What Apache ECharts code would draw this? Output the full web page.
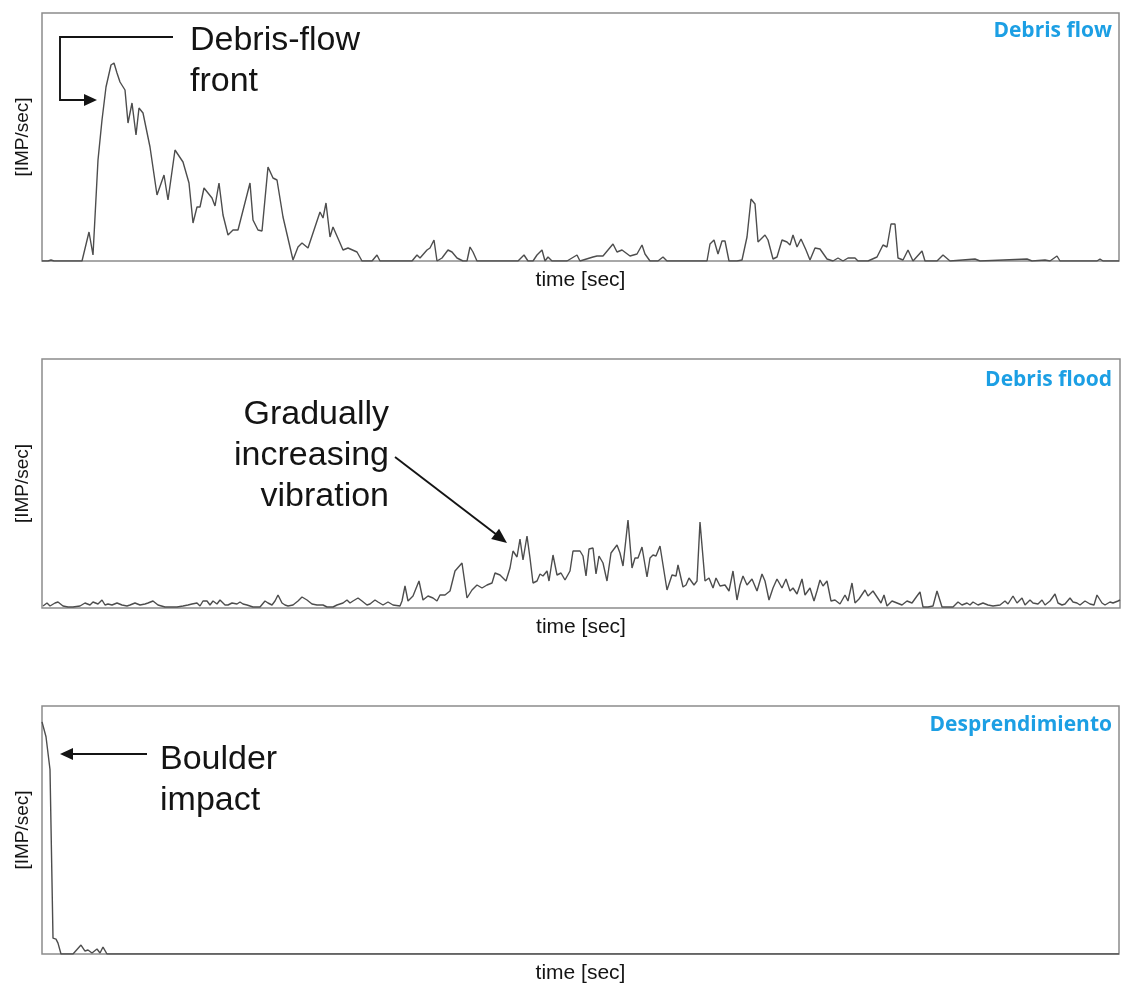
<!DOCTYPE html>
<html>
<head>
<meta charset="utf-8">
<title>Geophone signals</title>
<script src="https://cdn.jsdelivr.net/npm/echarts@6/dist/echarts.min.js"></script>
<style>
  html, body { margin: 0; padding: 0; background: #ffffff; }
  #chart { width: 1122px; height: 985px; }
</style>
</head>
<body>
<div id="chart"></div>
<script>
// Geophone impulse rate over time for three kinds of event: [time, IMP/sec]
const debrisFlowSignal = [
  [0,0],[6,0],[9,1],[12,0],[40,0],[47,29],[51,6],[56,101],[60,141],[64,174],[69,196],[72,198],
  [75,188],[78,179],[83,171],[86,138],[90,158],[94,126],[97,153],[101,148],[108,114],[115,66],
  [122,86],[126,61],[133,111],[141,99],[147,78],[151,38],[155,54],[158,54],[162,73],[166,68],
  [170,63],[173,55],[177,78],[181,46],[186,26],[191,31],[196,31],[208,78],[211,41],[216,31],
  [220,30],[226,94],[231,83],[235,81],[241,44],[251,1],[256,14],[260,18],[266,13],[278,49],
  [281,43],[284,58],[288,24],[291,34],[298,18],[301,11],[306,13],[315,9],[320,0],[330,0],
  [335,6],[338,0],[370,0],[375,6],[378,3],[385,11],[388,13],[392,21],[395,0],[400,3],[406,11],
  [410,9],[415,3],[421,0],[425,0],[428,14],[431,9],[435,0],[476,0],[482,6],[486,0],[491,0],
  [495,6],[500,11],[503,0],[506,4],[510,0],[525,0],[535,6],[538,0],[551,4],[555,5],[561,5],
  [566,11],[571,17],[575,9],[580,11],[588,5],[595,7],[600,16],[603,7],[608,0],[616,0],[621,4],
  [625,0],[640,0],[665,0],[668,17],[672,21],[676,7],[680,20],[683,20],[687,0],[695,0],[700,1],
  [705,24],[709,62],[713,57],[716,19],[723,26],[726,21],[731,2],[735,4],[740,21],[745,19],
  [748,16],[751,26],[755,14],[759,22],[764,11],[768,1],[773,13],[778,12],[785,2],[791,0],
  [796,3],[801,0],[806,3],[813,3],[816,0],[826,0],[835,4],[841,16],[845,14],[849,37],[853,37],
  [856,3],[861,1],[866,11],[871,0],[880,10],[883,0],[895,0],[901,6],[908,0],[933,2],[938,0],
  [985,2],[990,0],[1003,1],[1008,0],[1015,5],[1018,0],[1055,0],[1058,2],[1061,0],[1077,0]
];

const debrisFloodSignal = [
  [1,2],[5,5],[8,2],[13,5],[16,6],[21,2],[26,1],[31,1],[38,2],[43,5],[48,3],[51,6],[56,4],
  [60,8],[63,3],[66,4],[70,3],[75,5],[80,3],[85,2],[88,3],[93,5],[98,3],[103,4],[106,5],
  [111,7],[116,3],[123,1],[128,1],[135,1],[141,2],[146,3],[150,4],[155,5],[158,2],[161,7],
  [165,7],[168,3],[171,7],[175,4],[178,8],[183,3],[186,3],[190,5],[195,4],[198,6],[201,4],
  [205,3],[211,1],[218,1],[223,7],[226,5],[230,3],[233,7],[236,13],[240,5],[243,3],[246,2],
  [251,3],[256,7],[260,11],[265,8],[270,4],[275,3],[281,3],[285,1],[291,1],[295,3],[301,5],
  [305,8],[308,5],[311,7],[316,10],[320,7],[325,3],[328,4],[333,8],[336,6],[341,3],[346,6],
  [351,3],[358,2],[360,7],[363,22],[366,7],[371,12],[377,27],[381,8],[386,12],[391,10],
  [395,7],[398,13],[403,13],[408,17],[413,37],[420,45],[422,45],[425,10],[430,18],[435,23],
  [440,20],[445,23],[450,25],[453,35],[458,33],[464,27],[468,40],[471,57],[475,51],[478,69],
  [481,48],[485,72],[488,50],[491,25],[495,27],[498,34],[501,32],[505,37],[507,27],[511,53],
  [515,33],[519,35],[523,28],[528,37],[531,57],[538,57],[541,52],[544,32],[547,59],[551,60],
  [554,34],[557,52],[561,45],[565,27],[569,55],[575,63],[578,55],[581,42],[586,88],[590,40],
  [593,50],[596,50],[600,61],[605,31],[608,50],[611,53],[614,52],[618,62],[625,18],[630,33],
  [634,32],[636,43],[641,21],[644,23],[647,30],[652,23],[655,27],[658,86],[663,27],[667,30],
  [671,20],[674,30],[678,22],[683,23],[687,17],[691,37],[695,8],[698,23],[701,32],[705,23],
  [710,29],[715,17],[720,34],[723,27],[727,8],[731,20],[735,29],[740,20],[744,29],[748,17],
  [751,20],[755,14],[760,29],[763,13],[768,20],[772,7],[775,17],[778,28],[781,22],[785,27],
  [789,7],[793,8],[798,4],[803,13],[806,7],[810,25],[813,5],[817,9],[823,18],[826,12],
  [831,17],[835,11],[839,5],[842,13],[845,2],[850,7],[855,5],[860,3],[865,7],[870,5],
  [875,12],[878,16],[881,1],[886,1],[891,2],[895,17],[900,1],[911,1],[916,6],[920,3],
  [925,5],[928,3],[931,6],[936,3],[941,5],[946,3],[951,2],[958,3],[963,7],[966,4],[971,12],
  [975,5],[980,10],[983,3],[988,8],[991,5],[996,4],[1000,8],[1003,3],[1008,7],[1013,14],
  [1016,5],[1020,3],[1023,4],[1028,10],[1031,6],[1035,5],[1038,3],[1043,7],[1048,4],[1052,3],
  [1055,13],[1060,5],[1063,3],[1068,6],[1071,5],[1076,7],[1078,8]
];

const rockfallSignal = [
  [0,234],[4,219],[8,186],[11,16],[14,15],[16,11],[19,0],[31,0],[39,9],[43,3],[46,4],
  [50,1],[55,5],[58,1],[61,7],[65,0],[1077,0]
];

const panelTitles = ['Debris flow', 'Debris flood', 'Desprendimiento'];
const timeAxisName = 'time [sec]';
const rateAxisName = '[IMP/sec]';
const flowNote = ['Debris-flow', 'front'];
const floodNote = ['Gradually', 'increasing', 'vibration'];
const impactNote = ['Boulder', 'impact'];

// Panel frames (pixels)
const panels = [
  { left: 42, top: 13,  width: 1077, height: 248 },
  { left: 42, top: 359, width: 1078, height: 249 },
  { left: 42, top: 706, width: 1077, height: 250 }
];
const signals = [debrisFlowSignal, debrisFloodSignal, rockfallSignal];

const chart = echarts.init(document.getElementById('chart'), null, { renderer: 'canvas' });

const sans = '"Liberation Sans", Arial, sans-serif';
const ink = '#141414';

function arrowHead(tipX, tipY, fromX, fromY, len, half) {
  const dx = tipX - fromX, dy = tipY - fromY;
  const d = Math.sqrt(dx * dx + dy * dy);
  const ux = dx / d, uy = dy / d;
  const bx = tipX - ux * len, by = tipY - uy * len;
  return [[tipX, tipY], [bx - uy * half, by + ux * half], [bx + uy * half, by - ux * half]];
}

function noteText(str, x, y, align) {
  return {
    type: 'text', z: 10,
    style: {
      text: str, x: x, y: y, fill: ink,
      font: '34px ' + sans,
      align: align, textAlign: align,
      verticalAlign: 'middle', textVerticalAlign: 'middle'
    }
  };
}

function titleText(str, y) {
  return {
    type: 'text', z: 10,
    style: {
      text: str, x: 1112, y: y, fill: '#1c9fe4',
      font: 'bold 21px "Open Sans", sans-serif',
      align: 'right', textAlign: 'right',
      verticalAlign: 'middle', textVerticalAlign: 'middle'
    }
  };
}

const arrowStroke = { stroke: ink, lineWidth: 1.9, fill: null };

const graphics = [
  titleText(panelTitles[0], 31),
  titleText(panelTitles[1], 380),
  titleText(panelTitles[2], 725),

  noteText(flowNote[0], 190, 41, 'left'),
  noteText(flowNote[1], 190, 82, 'left'),
  { type: 'polyline', z: 10, shape: { points: [[173, 37], [60, 37], [60, 100], [86, 100]] }, style: arrowStroke },
  { type: 'polygon', z: 10, shape: { points: arrowHead(97, 100, 60, 100, 13, 6) }, style: { fill: ink } },

  noteText(floodNote[0], 389, 415, 'right'),
  noteText(floodNote[1], 389, 456, 'right'),
  noteText(floodNote[2], 389, 497, 'right'),
  { type: 'line', z: 10, shape: { x1: 395, y1: 457, x2: 497, y2: 535 }, style: arrowStroke },
  { type: 'polygon', z: 10, shape: { points: arrowHead(507, 543, 395, 457, 15, 6.5) }, style: { fill: ink } },

  noteText(impactNote[0], 160, 760, 'left'),
  noteText(impactNote[1], 160, 801, 'left'),
  { type: 'line', z: 10, shape: { x1: 147, y1: 754, x2: 70, y2: 754 }, style: arrowStroke },
  { type: 'polygon', z: 10, shape: { points: arrowHead(60, 754, 147, 754, 13, 6) }, style: { fill: ink } }
];

const option = {
  backgroundColor: '#ffffff',
  animation: false,
  grid: panels.map(p => ({
    left: p.left, top: p.top, width: p.width, height: p.height,
    show: true, borderColor: '#8c8c8c', borderWidth: 1.5, backgroundColor: 'transparent'
  })),
  xAxis: panels.map((p, i) => ({
    type: 'value', gridIndex: i, min: 0, max: p.width,
    axisLine: { show: false }, axisTick: { show: false },
    axisLabel: { show: false }, splitLine: { show: false },
    name: timeAxisName, nameLocation: 'middle', nameGap: 9,
    nameTextStyle: { fontFamily: sans, fontSize: 21, color: ink, verticalAlign: 'top' }
  })),
  yAxis: panels.map((p, i) => ({
    type: 'value', gridIndex: i, min: 0, max: p.height,
    axisLine: { show: false }, axisTick: { show: false },
    axisLabel: { show: false }, splitLine: { show: false },
    name: rateAxisName, nameLocation: 'middle', nameGap: 10,
    nameTextStyle: { fontFamily: sans, fontSize: 19, color: ink }
  })),
  series: signals.map((s, i) => ({
    type: 'line', xAxisIndex: i, yAxisIndex: i,
    data: s, showSymbol: false, symbol: 'none', clip: true,
    lineStyle: { color: '#4d4d4d', width: 1.4 },
    emphasis: { disabled: true }
  })),
  graphic: graphics
};

chart.setOption(option);
</script>
</body>
</html>
